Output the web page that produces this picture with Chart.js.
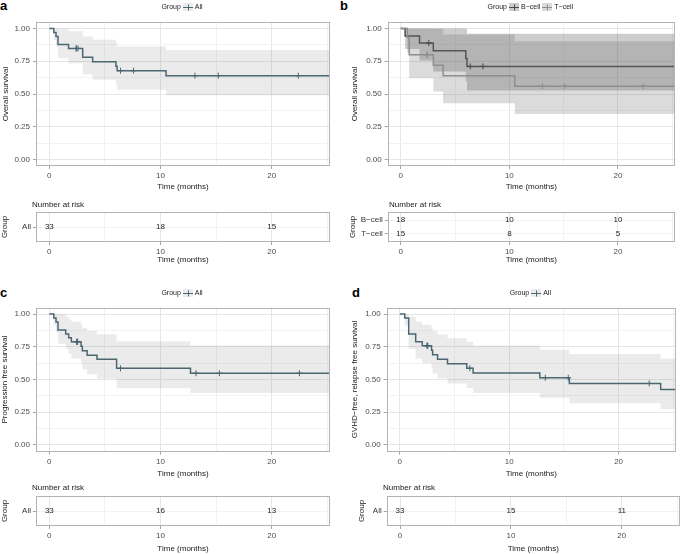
<!DOCTYPE html>
<html><head><meta charset="utf-8">
<script src="https://cdn.jsdelivr.net/npm/chart.js@4.4.1/dist/chart.umd.min.js"></script>
<style>
html,body{margin:0;padding:0;background:#fff;width:681px;height:554px;overflow:hidden}
#wrap{position:relative;width:681px;height:554px}
#wrap canvas{position:absolute;left:0;top:0}
.lab{position:absolute;font:bold 13px "Liberation Sans",Arial,sans-serif;line-height:13px;color:#000}
</style></head><body>
<div id="wrap">
<div class="lab" style="left:0px;top:-1px">a</div>
<div class="lab" style="left:340px;top:-1px">b</div>
<div class="lab" style="left:0px;top:286px">c</div>
<div class="lab" style="left:352px;top:286px">d</div>
</div>
<script>
// ---------------- DATA ----------------
// Panel a: overall survival, all patients
const aTime   = [0, 0.4, 0.6, 0.78, 1.73, 3.0, 3.9, 5.99, 6.1, 10.5, 25.25];
const aSurv   = [1, 0.970, 0.939, 0.879, 0.848, 0.780, 0.746, 0.712, 0.678, 0.640, 0.640];
const aUpper  = [1, 1, 1, 0.998, 0.980, 0.939, 0.915, 0.891, 0.865, 0.837, 0.837];
const aLower  = [1, 0.913, 0.861, 0.774, 0.734, 0.649, 0.608, 0.569, 0.532, 0.490, 0.490];
const aCensor = [2.4, 2.45, 2.58, 6.4, 7.57, 13.1, 15.2, 22.4];

// Panel b: overall survival by group
const bcTime   = [0, 0.4, 1.73, 3.0, 5.99, 6.1, 25.25];
const bcSurv   = [1, 0.944, 0.889, 0.830, 0.771, 0.711, 0.711];
const bcUpper  = [1, 1, 1, 1, 0.997, 0.961, 0.961];
const bcLower  = [1, 0.844, 0.755, 0.671, 0.596, 0.526, 0.526];
const bcCensor = [2.58, 6.4, 7.57];
const tcTime   = [0, 0.6, 0.78, 3.0, 3.9, 10.5, 25.25];
const tcSurv   = [1, 0.933, 0.800, 0.720, 0.640, 0.560, 0.560];
const tcUpper  = [1, 1, 1, 0.999, 0.955, 0.903, 0.903];
const tcLower  = [1, 0.815, 0.621, 0.519, 0.429, 0.347, 0.347];
const tcCensor = [2.4, 2.45, 13.06, 15.1, 22.3];

// Panel c: progression free survival
const cTime   = [0, 0.4, 0.6, 0.78, 1.47, 1.74, 1.98, 2.85, 2.97, 3.4, 4.29, 6.05, 12.7, 25.25];
const cSurv   = [1, 0.970, 0.939, 0.879, 0.848, 0.818, 0.788, 0.754, 0.719, 0.686, 0.654, 0.585, 0.548, 0.548];
const cUpper  = [1, 1, 1, 0.998, 0.980, 0.961, 0.941, 0.918, 0.894, 0.870, 0.846, 0.790, 0.759, 0.759];
const cLower  = [1, 0.913, 0.861, 0.774, 0.734, 0.697, 0.660, 0.619, 0.579, 0.541, 0.505, 0.433, 0.396, 0.396];
const cCensor = [2.45, 2.5, 2.55, 6.4, 13.2, 15.3, 22.5];

// Panel d: GVHD-free, relapse free survival
const dTime   = [0, 0.45, 0.81, 1.45, 2.05, 2.9, 3.0, 3.45, 4.36, 6.12, 6.7, 12.8, 15.5, 23.85, 25.25];
const dSurv   = [1, 0.970, 0.848, 0.788, 0.758, 0.724, 0.689, 0.654, 0.620, 0.586, 0.549, 0.513, 0.470, 0.423, 0.423];
const dUpper  = [1, 1, 0.980, 0.941, 0.919, 0.896, 0.871, 0.844, 0.816, 0.789, 0.759, 0.728, 0.694, 0.658, 0.658];
const dLower  = [1, 0.913, 0.734, 0.660, 0.625, 0.585, 0.546, 0.507, 0.470, 0.435, 0.397, 0.361, 0.318, 0.272, 0.272];
const dCensor = [2.47, 2.52, 2.56, 6.4, 13.3, 15.4, 22.8];

// Number at risk tables
const riskTimes = [0, 10, 20];
const allGroup = ['All'];
const cellGroups = ['B\u2212cell', 'T\u2212cell'];
const aRisk = [[33, 18, 15]];
const bRisk = [[18, 10, 10], [15, 8, 5]];
const cRisk = [[33, 16, 13]];
const dRisk = [[33, 15, 11]];

// Axis ticks
const xLimits = [-1.2, 25.25];
const xBreaks = [0, 10, 20];
const xMinor  = [5, 15, 25];
const yLimits = [-0.05, 1.05];
const yBreaks = [0, 0.25, 0.5, 0.75, 1];
const yMinor  = [0.125, 0.375, 0.625, 0.875];

// ---------------- STYLE / LAYOUT ----------------
const FONT = '"Liberation Sans", Arial, Helvetica, sans-serif';
const CW = 681, CH = 554, YW = 30, XH = 14;
const LINE = '#4b6772', BAND = 'rgba(120,120,120,0.15)';
const BLINE = '#4a4a4a', TLINE = '#8e8e8e';
const BBAND = 'rgba(90,90,90,0.3)', TBAND = 'rgba(110,110,110,0.25)';
const MAJ = '#e6e6e6', MIN = '#f2f2f2', TICK = '#a6a6a6', BORDER = '#b3b3b3';

const P = {
  a: {plot:{l:36,r:330,t:22,b:166}, yTitleX:6, xTitleY:187, legendY:7,
      risk:{l:36,r:330,t:212,b:242}, narX:32, narY:205, groupX:5, riskTitleY:260},
  b: {plot:{l:387.7,r:675,t:22,b:166}, yTitleX:355, xTitleY:187, legendY:7,
      risk:{l:387.7,r:675,t:212,b:242}, narX:389, narY:205, groupX:353, riskTitleY:260},
  c: {plot:{l:36,r:330,t:307.5,b:451.5}, yTitleX:5, xTitleY:474, legendY:293,
      risk:{l:36,r:330,t:496,b:526}, narX:32, narY:488, groupX:5, riskTitleY:549},
  d: {plot:{l:386.7,r:680,t:307.5,b:451.5}, yTitleX:355, xTitleY:474, legendY:293,
      risk:{l:386.7,r:680,t:496,b:526}, narX:383, narY:488, groupX:361.5, riskTitleY:549}
};

// ---------------- HELPERS ----------------
function stepValue(times, vals, t) {
  let v = vals[0];
  for (let i = 0; i < times.length; i++) if (times[i] <= t) v = vals[i];
  return v;
}
function xy(times, vals) { return times.map((t, i) => ({x: t, y: vals[i]})); }
function newCanvas() {
  const c = document.createElement('canvas');
  c.width = CW; c.height = CH;
  c.style.width = CW + 'px'; c.style.height = CH + 'px';
  document.getElementById('wrap').appendChild(c);
  return c;
}
function drawBorder(ctx, a) {
  ctx.save();
  ctx.strokeStyle = BORDER; ctx.lineWidth = 1;
  const l = Math.round(a.left) + 0.5, t = Math.round(a.top) + 0.5;
  const r = Math.round(a.right) - 0.5, b = Math.round(a.bottom) - 0.5;
  ctx.strokeRect(l, t, r - l, b - t);
  ctx.restore();
}
function hText(ctx, s, x, y, align, size, color) {
  ctx.save();
  ctx.font = size + 'px ' + FONT; ctx.fillStyle = color || '#1a1a1a';
  ctx.textAlign = align || 'center'; ctx.textBaseline = 'middle';
  ctx.fillText(s, x, y);
  ctx.restore();
}
function vText(ctx, s, x, y, size) {
  ctx.save();
  ctx.translate(x, y); ctx.rotate(-Math.PI / 2);
  ctx.font = size + 'px ' + FONT; ctx.fillStyle = '#1a1a1a';
  ctx.textAlign = 'center'; ctx.textBaseline = 'middle';
  ctx.fillText(s, 0, 0);
  ctx.restore();
}
function drawLegend(ctx, cx, cy, items) {
  ctx.save();
  ctx.font = '7px ' + FONT;
  const keyW = 10, gap = 2;
  let total = ctx.measureText('Group').width + gap;
  items.forEach(it => { total += keyW + gap + ctx.measureText(it.label).width + gap; });
  let x = cx - total / 2;
  ctx.fillStyle = '#1a1a1a'; ctx.textBaseline = 'middle'; ctx.textAlign = 'left';
  ctx.fillText('Group', x, cy);
  x += ctx.measureText('Group').width + gap;
  items.forEach(it => {
    ctx.fillStyle = it.band; ctx.fillRect(Math.round(x), Math.round(cy) - 4, keyW, 8);
    ctx.strokeStyle = it.color; ctx.lineWidth = 1;
    ctx.beginPath();
    ctx.moveTo(Math.round(x), Math.round(cy) + 0.5); ctx.lineTo(Math.round(x) + keyW, Math.round(cy) + 0.5);
    ctx.moveTo(Math.round(x) + keyW / 2 + 0.5, Math.round(cy) - 2.5); ctx.lineTo(Math.round(x) + keyW / 2 + 0.5, Math.round(cy) + 3.5);
    ctx.stroke();
    x += keyW + gap;
    ctx.fillStyle = '#1a1a1a';
    ctx.fillText(it.label, x, cy);
    x += ctx.measureText(it.label).width + gap;
  });
  ctx.restore();
}
const isIn = (arr, v) => arr.some(b => Math.abs(b - v) < 1e-9);

function xScale() {
  return {
    type: 'linear', min: xLimits[0], max: xLimits[1],
    afterBuildTicks: s => { s.ticks = xBreaks.concat(xMinor).sort((p, q) => p - q).map(v => ({value: v})); },
    afterFit: s => { s.height = XH; },
    border: {display: false},
    grid: {
      color: c => (c.tick && isIn(xBreaks, c.tick.value)) ? MAJ : MIN,
      tickColor: c => (c.tick && isIn(xBreaks, c.tick.value)) ? TICK : 'rgba(0,0,0,0)',
      lineWidth: 1, tickLength: 3, drawTicks: true
    },
    ticks: {
      callback: v => isIn(xBreaks, v) ? String(v) : '',
      autoSkip: false, maxRotation: 0, minRotation: 0, padding: 2,
      color: '#4d4d4d', font: {family: FONT, size: 8}
    }
  };
}

function kmChart(p, groups, yTitle) {
  const ds = [];
  groups.forEach(g => {
    ds.push({data: xy(g.time, g.upper), stepped: true, borderColor: 'rgba(0,0,0,0)', borderWidth: 0,
             pointRadius: 0, fill: '+1', backgroundColor: g.band, order: 3});
    ds.push({data: xy(g.time, g.lower), stepped: true, borderColor: 'rgba(0,0,0,0)', borderWidth: 0,
             pointRadius: 0, fill: false, order: 3});
  });
  groups.forEach((g, k) => {
    ds.push({data: xy(g.time, g.surv), stepped: true, borderColor: g.color, borderWidth: 1.5,
             pointRadius: 0, fill: false, order: 1 + (groups.length - k)});
    ds.push({data: g.censor.map(t => ({x: t, y: stepValue(g.time, g.surv, t)})), showLine: false,
             pointStyle: 'cross', pointRadius: 3, borderColor: g.color, borderWidth: 1,
             backgroundColor: g.color, order: 0});
  });
  const box = p.plot;
  new Chart(newCanvas(), {
    type: 'line',
    data: {datasets: ds},
    options: {
      responsive: false, animation: false, devicePixelRatio: 1,
      layout: {padding: {left: box.l - YW, top: box.t, right: CW - box.r, bottom: CH - box.b - XH}},
      plugins: {legend: {display: false}, tooltip: {enabled: false}},
      scales: {
        x: xScale(),
        y: {
          type: 'linear', min: yLimits[0], max: yLimits[1],
          afterBuildTicks: s => { s.ticks = yBreaks.concat(yMinor).sort((p, q) => p - q).map(v => ({value: v})); },
          afterFit: s => { s.width = YW; },
          border: {display: false},
          grid: {
            color: c => (c.tick && isIn(yBreaks, c.tick.value)) ? MAJ : MIN,
            tickColor: c => (c.tick && isIn(yBreaks, c.tick.value)) ? TICK : 'rgba(0,0,0,0)',
            lineWidth: 1, tickLength: 3
          },
          ticks: {
            callback: v => isIn(yBreaks, v) ? v.toFixed(2) : '',
            autoSkip: false, padding: 3, color: '#4d4d4d', font: {family: FONT, size: 8}
          }
        }
      }
    },
    plugins: [{
      id: 'deco',
      afterDraw(chart) {
        const ctx = chart.ctx, a = chart.chartArea;
        drawBorder(ctx, a);
        hText(ctx, 'Time (months)', (a.left + a.right) / 2, p.xTitleY, 'center', 8);
        vText(ctx, yTitle, p.yTitleX, (a.top + a.bottom) / 2, 8);
        drawLegend(ctx, (a.left + a.right) / 2, p.legendY,
          groups.map(g => ({label: g.label, color: g.color, band: g.band})));
      }
    }]
  });
}

function riskChart(p, groups, risk) {
  const n = groups.length, box = p.risk;
  new Chart(newCanvas(), {
    type: 'line',
    data: {datasets: []},
    options: {
      responsive: false, animation: false, devicePixelRatio: 1,
      layout: {padding: {left: box.l - YW, top: box.t, right: CW - box.r, bottom: CH - box.b - XH}},
      plugins: {legend: {display: false}, tooltip: {enabled: false}},
      scales: {
        x: xScale(),
        y: {
          type: 'linear', reverse: true, min: 0.4, max: n + 0.6,
          afterBuildTicks: s => { s.ticks = groups.map((g, i) => ({value: i + 1})); },
          afterFit: s => { s.width = YW; },
          border: {display: false},
          grid: {color: MIN, tickColor: TICK, lineWidth: 1, tickLength: 3},
          ticks: {
            callback: v => groups[Math.round(v) - 1],
            autoSkip: false, padding: 2, color: '#333', font: {family: FONT, size: 8}
          }
        }
      }
    },
    plugins: [{
      id: 'riskdeco',
      afterDraw(chart) {
        const ctx = chart.ctx, a = chart.chartArea;
        const xs = chart.scales.x, ys = chart.scales.y;
        drawBorder(ctx, a);
        risk.forEach((row, i) => row.forEach((v, j) => {
          hText(ctx, String(v), xs.getPixelForValue(riskTimes[j]), ys.getPixelForValue(i + 1), 'center', 8, '#222');
        }));
        hText(ctx, 'Number at risk', p.narX, p.narY, 'left', 8);
        hText(ctx, 'Time (months)', (a.left + a.right) / 2, p.riskTitleY, 'center', 8);
        vText(ctx, 'Group', p.groupX, (a.top + a.bottom) / 2, 8);
      }
    }]
  });
}

// ---------------- BUILD ----------------
kmChart(P.a, [{label: 'All', time: aTime, surv: aSurv, upper: aUpper, lower: aLower, censor: aCensor, color: LINE, band: BAND}], 'Overall survival');
kmChart(P.b, [
  {label: cellGroups[0], time: bcTime, surv: bcSurv, upper: bcUpper, lower: bcLower, censor: bcCensor, color: BLINE, band: BBAND},
  {label: cellGroups[1], time: tcTime, surv: tcSurv, upper: tcUpper, lower: tcLower, censor: tcCensor, color: TLINE, band: TBAND}
], 'Overall survival');
kmChart(P.c, [{label: 'All', time: cTime, surv: cSurv, upper: cUpper, lower: cLower, censor: cCensor, color: LINE, band: BAND}], 'Progression free survival');
kmChart(P.d, [{label: 'All', time: dTime, surv: dSurv, upper: dUpper, lower: dLower, censor: dCensor, color: LINE, band: BAND}], 'GVHD\u2212free, relapse free survival');

riskChart(P.a, allGroup, aRisk);
riskChart(P.b, cellGroups, bRisk);
riskChart(P.c, allGroup, cRisk);
riskChart(P.d, allGroup, dRisk);
</script>
</body></html>
